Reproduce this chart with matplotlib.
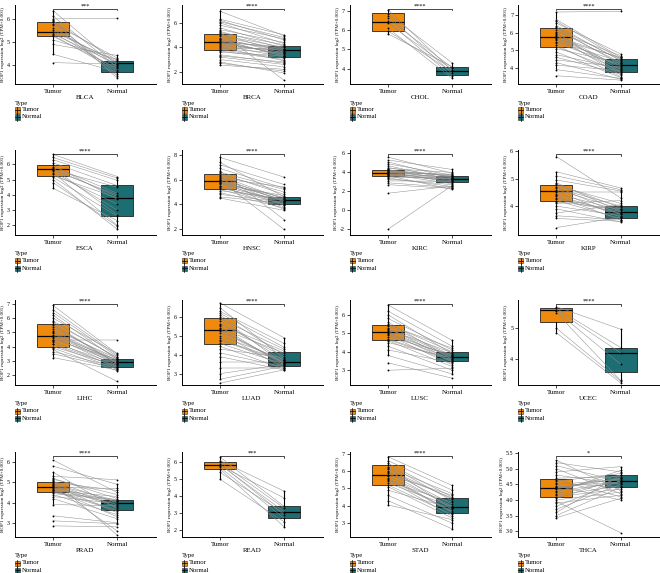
import numpy as np
import matplotlib
matplotlib.use("Agg")
import matplotlib.pyplot as plt
from matplotlib.patches import Rectangle
from matplotlib.lines import Line2D

plt.rcParams['font.family'] = ['Liberation Serif', 'DejaVu Serif']

cancers = ["BLCA", "BRCA", "CHOL", "COAD", "ESCA", "HNSC", "KIRC", "KIRP",
           "LIHC", "LUAD", "LUSC", "UCEC", "PRAD", "READ", "STAD", "THCA"]
significance = ["***", "****", "****", "****", "****", "****", "****", "****",
                "****", "****", "****", "****", "****", "***", "****", "*"]
groups = ["Tumor", "Normal"]

blca_tumor = [6.36, 6.12, 6.0, 5.95, 5.9, 5.86, 5.8, 5.72, 5.62, 5.52, 5.45, 5.42, 5.35, 5.3, 5.25, 5.1, 4.9, 4.48, 4.12]
blca_normal = [4.02, 3.92, 6.03, 3.45, 4.22, 3.62, 4.32, 3.55, 3.96, 4.12, 4.18, 3.82, 4.06, 3.76, 3.88, 4.26, 4.43, 3.72, 4.05]

brca_tumor = [6.95, 6.3, 6.2, 6.0, 5.8, 5.6, 5.45, 5.3, 5.2, 5.1, 5.0, 4.9, 4.8, 4.7, 4.6, 4.5, 4.45, 4.4, 4.3, 4.2,
              4.1, 4.0, 3.9, 3.8, 3.7, 3.6, 3.4, 3.2, 3.0, 2.8, 2.54, 4.65, 5.25, 3.95, 4.35, 2.7, 6.1, 3.3]
brca_normal = [4.95, 5.02, 4.6, 4.3, 4.7, 4.1, 4.4, 3.9, 4.2, 3.6, 4.0, 3.8, 3.5, 3.7, 3.3, 3.9, 3.4, 4.05, 3.6, 3.2,
               3.75, 2.9, 3.5, 3.1, 3.0, 3.3, 2.7, 2.6, 2.4, 1.9, 2.2, 3.25, 1.3, 3.85, 3.45, 2.05, 4.8, 2.8]

chol_tumor = [7.05, 6.85, 6.75, 6.6, 6.45, 6.35, 6.1, 5.95, 5.8]
chol_normal = [3.9, 4.3, 3.75, 4.05, 3.6, 3.95, 3.5, 3.85, 4.1]

coad_tumor = [7.18, 6.75, 6.65, 6.55, 6.4, 6.3, 6.25, 6.15, 6.05, 5.95, 5.85, 5.8, 5.75, 5.7, 5.6,
              5.5, 5.4, 5.3, 5.2, 5.1, 4.9, 4.75, 4.6, 4.45, 4.3, 4.15, 3.9, 3.55, 6.0, 5.65]
coad_normal = [7.22, 4.6, 4.5, 4.8, 4.4, 4.45, 4.2, 4.3, 4.7, 4.0, 3.9, 4.55, 3.6, 4.1, 3.8,
               4.35, 4.15, 3.5, 3.75, 4.25, 3.45, 3.95, 3.65, 4.05, 3.35, 3.85, 3.4, 3.3, 3.7, 4.6]

esca_tumor = [6.65, 6.45, 6.3, 6.1, 5.95, 5.85, 5.75, 5.7, 5.65, 5.55, 5.45, 5.35, 5.25, 5.15, 5.0, 4.8, 4.43, 5.6]
esca_normal = [5.2, 5.1, 4.95, 4.6, 3.7, 4.1, 2.7, 3.9, 4.5, 3.0, 2.0, 3.4, 3.8, 2.6, 1.75, 1.95, 2.3, 4.0]

hnsc_tumor = [7.8, 7.4, 7.2, 6.9, 6.7, 6.5, 6.4, 6.3, 6.2, 6.1, 6.0, 5.95, 5.9, 5.85, 5.8,
              5.7, 5.6, 5.5, 5.4, 5.3, 5.2, 5.1, 4.95, 4.8, 4.6, 4.5, 6.6, 5.75, 6.05, 5.45]
hnsc_normal = [6.2, 4.6, 5.6, 5.3, 2.75, 4.8, 5.0, 4.4, 4.2, 5.4, 4.5, 1.95, 4.3, 4.35, 3.9,
               4.1, 4.7, 3.6, 4.0, 4.25, 3.8, 4.45, 3.7, 4.15, 4.05, 3.5, 5.2, 4.55, 3.95, 4.3]

kirc_tumor = [5.6, 5.3, 5.1, 4.9, 4.7, 4.5, 4.4, 4.3, 4.2, 4.15, 4.1, 4.0, 3.95, 3.9, 3.85,
              3.8, 3.75, 3.7, 3.6, 3.5, 3.4, 3.3, 3.1, 2.9, 2.7, 1.8, -2.0, 4.05, 3.65, 4.25]
kirc_normal = [3.9, 4.3, 3.4, 3.7, 3.2, 3.5, 4.0, 3.1, 3.6, 3.3, 2.9, 3.45, 3.0, 3.8, 3.25,
               2.8, 3.55, 3.15, 3.3, 3.35, 2.5, 2.7, 3.05, 2.4, 2.3, 2.55, 2.6, 3.75, 2.2, 3.6]

kirp_tumor = [5.8, 5.25, 5.1, 4.95, 4.85, 4.75, 4.7, 4.65, 4.6, 4.55, 4.5, 4.45, 4.35,
              4.25, 4.2, 4.1, 4.0, 3.9, 3.75, 3.55, 3.22, 4.8, 4.4, 4.3, 3.65, 4.15]
kirp_normal = [4.3, 4.66, 4.6, 4.55, 3.8, 4.1, 3.7, 4.0, 3.9, 3.6, 4.5, 3.85, 3.5,
               3.75, 3.55, 4.2, 3.65, 3.42, 4.05, 3.45, 3.6, 3.95, 3.7, 3.8, 3.5, 3.9]

lihc_tumor = [6.9, 6.6, 6.4, 6.2, 6.0, 5.8, 4.45, 5.5, 5.4, 5.25, 5.1, 4.95, 4.85, 4.75, 4.7,
              4.6, 4.5, 4.4, 4.3, 4.15, 4.0, 3.8, 3.9, 3.65, 3.5, 3.23, 5.0, 5.6, 5.7, 4.2]
lihc_normal = [3.5, 3.4, 3.3, 3.1, 3.52, 3.2, 4.45, 2.8, 3.0, 3.15, 2.95, 2.7, 3.05, 2.9, 2.6,
               2.85, 3.1, 2.5, 2.75, 2.4, 2.65, 1.55, 2.3, 2.55, 2.45, 2.35, 2.9, 2.8, 3.25, 2.6]

luad_tumor = [6.75, 6.5, 6.3, 6.1, 6.0, 5.9, 5.8, 5.65, 5.5, 5.4, 5.3, 5.25, 5.15, 5.0, 4.9,
              4.75, 4.6, 4.45, 4.3, 4.1, 3.9, 3.6, 3.3, 3.0, 2.7, 2.5, 5.6, 5.35, 4.8, 6.2]
luad_normal = [4.9, 3.8, 4.6, 4.0, 3.5, 4.3, 3.7, 3.9, 3.45, 4.1, 3.6, 3.55, 3.3, 3.75, 3.4,
               3.65, 3.5, 3.25, 3.85, 3.35, 3.2, 3.6, 3.3, 3.5, 3.4, 3.2, 4.2, 3.55, 3.7, 4.4]

lusc_tumor = [6.53, 6.2, 6.0, 5.8, 5.6, 5.5, 5.4, 5.3, 5.2, 5.1, 5.05, 5.0, 4.9,
              4.8, 4.7, 4.6, 4.5, 4.3, 4.1, 3.8, 3.4, 3.0, 5.25, 4.95, 5.45, 4.65]
lusc_normal = [4.62, 4.3, 3.9, 4.1, 3.6, 4.0, 3.8, 3.5, 3.95, 3.7, 3.45, 3.75, 3.3,
               3.85, 3.55, 3.2, 3.65, 3.0, 3.4, 2.8, 2.57, 3.1, 3.75, 3.6, 4.2, 3.5]

ucec_tumor = [5.7, 5.65, 5.6, 5.55, 5.5, 5.0, 4.85]
ucec_normal = [4.97, 4.37, 4.2, 3.83, 3.3, 3.28, 3.22]

prad_tumor = [6.1, 5.8, 5.5, 5.3, 5.2, 5.1, 5.05, 5.0, 4.95, 4.9, 4.85, 4.8, 4.75, 4.7, 4.65,
              4.6, 4.55, 4.5, 4.4, 4.3, 4.2, 3.9, 3.35, 3.1, 2.85, 4.75, 4.85, 4.6, 5.15, 4.45]
prad_normal = [4.5, 4.9, 3.7, 5.13, 4.2, 2.4, 4.0, 4.6, 3.8, 4.1, 3.5, 2.6, 4.05, 3.9, 3.3,
               4.3, 3.6, 4.15, 3.4, 3.95, 3.2, 3.85, 3.0, 2.95, 2.8, 4.7, 3.75, 3.65, 4.4, 4.1]

read_tumor = [6.3, 6.1, 6.0, 5.9, 5.85, 5.8, 5.7, 5.6, 5.4, 5.0]
read_normal = [3.4, 4.3, 3.3, 2.9, 3.1, 3.9, 2.7, 2.2, 3.0, 2.5]

stad_tumor = [6.83, 6.6, 6.45, 6.35, 6.25, 6.1, 6.0, 5.9, 5.8, 5.75, 5.7, 5.6,
              5.5, 5.4, 5.3, 5.2, 5.1, 4.9, 4.6, 4.3, 4.05, 5.95, 5.55, 6.2]
stad_normal = [5.17, 4.9, 4.5, 4.3, 3.8, 4.4, 4.1, 3.9, 4.6, 3.6, 4.0, 3.7,
               3.4, 4.2, 3.95, 3.5, 3.3, 3.85, 3.0, 2.67, 3.2, 4.45, 3.65, 4.7]

thca_tumor = [5.28, 5.2, 5.1, 5.0, 4.9, 4.8, 4.7, 4.65, 4.6, 4.55, 4.5, 4.45, 4.4, 4.35, 4.3,
              4.25, 4.2, 4.15, 4.1, 4.05, 4.0, 3.9, 3.8, 3.7, 3.6, 3.5, 3.43, 4.38, 4.42, 3.95]
thca_normal = [4.3, 4.9, 4.6, 4.2, 5.07, 4.5, 4.75, 4.1, 4.85, 4.4, 4.65, 4.0, 4.7, 4.8, 4.55,
               4.95, 4.6, 4.45, 4.35, 4.7, 4.25, 4.15, 4.62, 4.5, 4.8, 4.4, 4.05, 4.68, 4.58, 2.95]

# box statistics (panel order as in `cancers`)
tumor_q1 = [5.27, 3.75, 5.95, 5.2, 5.25, 5.27, 3.64, 4.18, 3.94, 4.57, 4.62, 5.2, 4.53, 5.6, 5.17, 4.1]
tumor_med = [5.43, 4.46, 6.43, 5.74, 5.67, 5.86, 3.9, 4.55, 4.72, 5.3, 5.05, 5.6, 4.77, 5.82, 5.78, 4.39]
tumor_q3 = [5.87, 5.1, 6.86, 6.25, 5.95, 6.43, 4.25, 4.75, 5.58, 5.95, 5.43, 5.65, 5.0, 6.0, 6.33, 4.66]
normal_q1 = [3.73, 3.23, 3.67, 3.74, 2.58, 4.03, 3.0, 3.55, 2.6, 3.4, 3.48, 3.56, 3.62, 2.7, 3.56, 4.4]
normal_med = [4.09, 3.75, 3.9, 4.14, 3.8, 4.33, 3.3, 3.77, 2.9, 3.6, 3.73, 4.19, 3.97, 3.1, 3.94, 4.62]
normal_q3 = [4.2, 4.08, 4.1, 4.48, 4.62, 4.6, 3.64, 4.0, 3.13, 4.15, 4.0, 4.37, 4.15, 3.4, 4.44, 4.79]

y_ticks = [[4, 5, 6], [2, 4, 6], [4, 5, 6, 7], [4, 5, 6, 7],
           [2, 3, 4, 5, 6], [2, 4, 6, 8], [-2, 0, 2, 4, 6], [4, 5, 6],
           [2, 3, 4, 5, 6, 7], [3, 4, 5, 6], [3, 4, 5, 6], [4, 5],
           [3, 4, 5, 6], [2, 3, 4, 5, 6], [3, 4, 5, 6, 7], [3.0, 3.5, 4.0, 4.5, 5.0, 5.5]]

tumor_all = [blca_tumor, brca_tumor, chol_tumor, coad_tumor, esca_tumor, hnsc_tumor, kirc_tumor, kirp_tumor,
             lihc_tumor, luad_tumor, lusc_tumor, ucec_tumor, prad_tumor, read_tumor, stad_tumor, thca_tumor]
normal_all = [blca_normal, brca_normal, chol_normal, coad_normal, esca_normal, hnsc_normal, kirc_normal, kirp_normal,
              lihc_normal, luad_normal, lusc_normal, ucec_normal, prad_normal, read_normal, stad_normal, thca_normal]

# layout / style
y_limits = [(3.2, 6.6), (1.0, 7.46), (3.2, 7.3), (3.08, 7.58),
            (1.36, 6.94), (1.5, 8.4), (-2.6, 6.35), (2.95, 6.04),
            (1.3, 7.28), (2.4, 6.9), (2.2, 6.8), (3.15, 5.92),
            (2.3, 6.5), (1.6, 6.6), (2.2, 7.1), (2.81, 5.54)]
C_TUMOR = "#EF8A0C"
C_NORMAL = "#1D6E73"
W, H = 660, 573
col_left = [14.6, 181.5, 349.5, 518.0]
row_top = [5, 150, 300, 452]
row_h = [79, 85, 85, 85]
AX_W = 141
ylab = "BOP1 expression log2 (TPM+0.001)"

fig = plt.figure(figsize=(W / 100, H / 100), dpi=100)


def whiskers(vals, q1, q3):
    v = np.asarray(vals)
    iqr = q3 - q1
    lo = v[v >= q1 - 1.5 * iqr].min()
    hi = v[v <= q3 + 1.5 * iqr].max()
    return lo, hi


for i, name in enumerate(cancers):
    r, c = divmod(i, 4)
    left, top, AX_H = col_left[c], row_top[r], row_h[r]
    ax = fig.add_axes([left / W, 1 - (top + AX_H) / H, AX_W / W, AX_H / H])
    tv, nv = tumor_all[i], normal_all[i]

    tlo, thi = whiskers(tv, tumor_q1[i], tumor_q3[i])
    nlo, nhi = whiskers(nv, normal_q1[i], normal_q3[i])
    stats = [dict(med=tumor_med[i], q1=tumor_q1[i], q3=tumor_q3[i], whislo=tlo, whishi=thi, fliers=[]),
             dict(med=normal_med[i], q1=normal_q1[i], q3=normal_q3[i], whislo=nlo, whishi=nhi, fliers=[])]
    bp = ax.bxp(stats, positions=[1, 2], widths=0.5, patch_artist=True, showcaps=False,
                boxprops=dict(edgecolor="#222222", linewidth=0.6),
                whiskerprops=dict(color="black", linewidth=0.8),
                medianprops=dict(color="black", linewidth=0.9), zorder=1)
    for patch, col in zip(bp['boxes'], [C_TUMOR, C_NORMAL]):
        patch.set_facecolor(col)

    for t, n in zip(tv, nv):
        ax.plot([1, 2], [t, n], color="#8c8c8c", lw=0.35, zorder=2)
    ax.scatter(np.full(len(tv), 1.0), tv, s=1.8, color="black", zorder=3, linewidths=0)
    ax.scatter(np.full(len(nv), 2.0), nv, s=1.8, color="black", zorder=3, linewidths=0)

    y0, y1 = y_limits[i]
    rng = y1 - y0
    ax.set_ylim(y0, y1)
    ax.set_xlim(0.4, 2.6)
    yb = y1 - 0.045 * rng
    tip = 0.02 * rng
    ax.plot([1, 1, 2, 2], [yb - tip, yb, yb, yb - tip], color="black", lw=0.5, clip_on=False, zorder=4)
    ax.text(1.5, yb + 0.002 * rng, significance[i], ha="center", va="bottom", fontsize=4.5, clip_on=False)

    ax.set_xticks([1, 2])
    ax.set_xticklabels(groups, fontsize=5)
    ax.set_yticks(y_ticks[i])
    if name == "THCA":
        ax.set_yticklabels([f"{v:.1f}" for v in y_ticks[i]], fontsize=4.3)
    else:
        ax.set_yticklabels([str(v) for v in y_ticks[i]], fontsize=4.3)
    ax.tick_params(axis="both", length=2, width=0.5, pad=1.5, colors="black")
    ax.set_xlabel(name, fontsize=5, labelpad=0.5)
    ax.set_ylabel(ylab, fontsize=3.6, labelpad=1.5)
    for s in ["top", "right"]:
        ax.spines[s].set_visible(False)
    for s in ["left", "bottom"]:
        ax.spines[s].set_linewidth(0.7)

    # legend
    by = top + AX_H
    fig.text(left / W, 1 - (by + 19) / H, "Type", fontsize=4.8, va="center", ha="left")
    for k, (lab, col) in enumerate(zip(groups, [C_TUMOR, C_NORMAL])):
        yc = by + 26 + 7 * k
        fig.patches.append(Rectangle((left / W, 1 - (yc + 2.5) / H), 5 / W, 5 / H,
                                     transform=fig.transFigure, facecolor=col,
                                     edgecolor="#333333", lw=0.4))
        fig.lines.append(Line2D([(left + 2.5) / W] * 2, [1 - (yc + 3.5) / H, 1 - (yc - 3.5) / H],
                                transform=fig.transFigure, color="black", lw=0.5))
        fig.lines.append(Line2D([left / W, (left + 5) / W], [1 - yc / H] * 2,
                                transform=fig.transFigure, color="black", lw=0.5))
        fig.text((left + 7) / W, 1 - yc / H, lab, fontsize=4.8, va="center", ha="left")

fig.savefig("out.png", dpi=100)
